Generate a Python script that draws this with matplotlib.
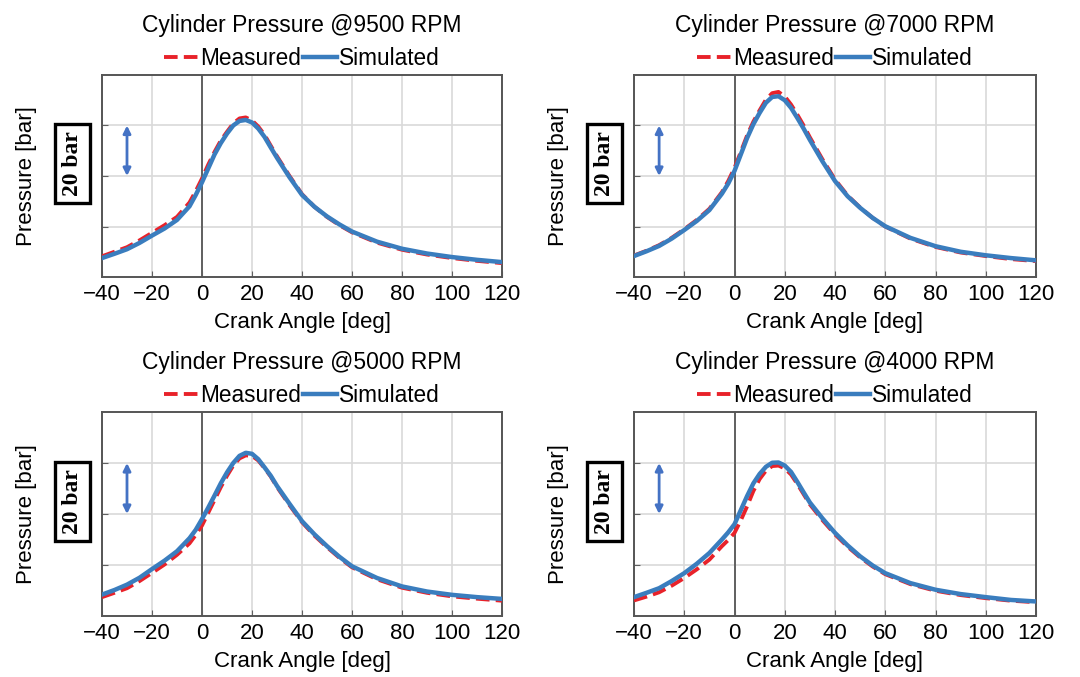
import matplotlib
matplotlib.use("Agg")
import matplotlib.pyplot as plt

plt.rcParams['font.family'] = ['Liberation Sans', 'DejaVu Sans']

angles = [-40, -35, -30, -25, -20, -15, -10, -5, -2.5, 0, 2.5, 5, 7.5, 10, 12.5, 15, 17.5,
          20, 22.5, 25, 27.5, 30, 35, 40, 45, 50, 55, 60, 70, 80, 90, 100, 110, 120]

titles = ["Cylinder Pressure @9500 RPM", "Cylinder Pressure @7000 RPM",
          "Cylinder Pressure @5000 RPM", "Cylinder Pressure @4000 RPM"]

sim_9500 = [7.5, 9.2, 11.0, 13.5, 16.4, 19.2, 22.6, 28.0, 32.5, 37.5, 43, 48.5, 53, 56.8, 60, 61.8, 62.2,
            61.2, 58.8, 55.5, 51.3, 47.2, 39.5, 32.5, 27.8, 24, 20.8, 18, 14, 11.2, 9.3, 7.9, 6.8, 5.9]
meas_9500 = [8.2, 10, 11.8, 14.5, 17.5, 20.5, 23.8, 29.5, 34, 39, 44.5, 49.5, 54, 57.5, 60.8, 62.8, 63.2,
             62, 59.6, 56.3, 52, 47.8, 40, 32.8, 27.8, 23.8, 20.5, 17.7, 13.6, 10.8, 8.9, 7.5, 6.4, 5.5]

sim_7000 = [8.3, 10.2, 12.3, 15.2, 18.6, 22.2, 26.5, 33, 37, 42, 48.5, 55, 60.5, 65, 69, 71.3, 71.6,
            70, 67, 63, 58.8, 54.3, 45.8, 38, 32, 27.4, 23.4, 20.1, 15.5, 12.2, 10, 8.6, 7.5, 6.6]
meas_7000 = [8.5, 10.4, 12.6, 15.5, 18.9, 22.6, 27, 33.6, 38, 43.2, 49.5, 56, 61.5, 66, 70.2, 72.8, 73.3,
             71.5, 68.3, 64.3, 60, 55.3, 46.6, 38.6, 32.3, 27.5, 23.4, 20, 15.2, 11.9, 9.7, 8.3, 7.1, 6.3]

sim_5000 = [8.4, 10.2, 12.3, 15, 18.4, 21.7, 25.4, 30.5, 33.8, 38, 42.5, 47.2, 52, 56.3, 60, 62.8, 64,
            63.6, 61.5, 58.3, 55, 51, 44, 37.2, 32, 27.4, 23.2, 19.5, 14.9, 11.6, 9.6, 8.3, 7.4, 6.7]
meas_5000 = [7.4, 9.1, 10.9, 13.7, 16.9, 20.2, 24, 28.5, 31.8, 35.5, 40.5, 45.5, 50.5, 55, 59, 61.8, 63,
             62.8, 61, 58, 54.7, 50.6, 43.5, 36.8, 31.5, 27, 22.8, 19.1, 14.4, 11.1, 9.1, 7.7, 6.8, 6]

sim_4000 = [7.4, 9.1, 10.9, 13.7, 16.8, 20.5, 24.7, 30, 32.8, 36, 41.5, 47, 52, 55.7, 58.5, 60.1, 60.2,
            59, 56.5, 52.6, 48.5, 44.5, 38.3, 32.6, 27.7, 23.4, 19.8, 16.8, 12.9, 10.3, 8.6, 7.4, 6.3, 5.7]
meas_4000 = [6.1, 7.6, 9.3, 11.9, 14.9, 18.3, 22.1, 27.4, 29.8, 32.6, 37.5, 43, 49, 53.7, 57, 58.8, 59,
             57.9, 55.5, 51.8, 47.8, 43.8, 37.6, 32, 27.2, 23, 19.4, 16.4, 12.5, 9.9, 8.2, 7, 6, 5.4]

measured = [meas_9500, meas_7000, meas_5000, meas_4000]
simulated = [sim_9500, sim_7000, sim_5000, sim_4000]

x_ticks = [-40, -20, 0, 20, 40, 60, 80, 100, 120]
y_grid = [20, 40, 60]

fig = plt.figure(figsize=(10.8, 6.77), dpi=100)
fig.patch.set_facecolor('white')

W = 1080.0
H = 677.0
boxes = [(102, 75, 400, 202), (634, 75, 402, 202), (102, 412, 400, 204), (634, 412, 402, 204)]

red = '#E8222A'
blue = '#3A7DBE'

for i, (px, py, pw, ph) in enumerate(boxes):
    ax = fig.add_axes([px / W, 1 - (py + ph) / H, pw / W, ph / H])
    ax.set_xlim(-40, 120)
    ax.set_ylim(0, 80)
    ax.set_xticks(x_ticks)
    ax.set_yticks(y_grid)
    ax.set_yticklabels([])
    ax.grid(True, color='#D9D9D9', lw=1.2)
    ax.set_axisbelow(True)
    ax.axvline(0, color='#606060', lw=1.4, zorder=1)
    for s in ax.spines.values():
        s.set_color('#555555')
        s.set_linewidth(1.4)
    ax.tick_params(direction='in', length=4, color='#606060', labelsize=16, pad=5)
    ax.plot(angles, measured[i], color=red, lw=2.8, ls=(0, (3.5, 1.6)), label='Measured', zorder=3)
    ax.plot(angles, simulated[i], color=blue, lw=3.2, label='Simulated', zorder=4)
    ax.set_xlabel('Crank Angle [deg]', fontsize=16, labelpad=5)
    ax.set_ylabel('Pressure [bar]', fontsize=16, labelpad=42)
    ax.set_title(titles[i], fontsize=16.5, pad=31)
    ax.legend(loc='lower center', bbox_to_anchor=(0.5, 0.975), ncol=2, frameon=False,
              fontsize=16.3, handlelength=1.5, handletextpad=0.1, columnspacing=0.1,
              borderaxespad=0.05)
    ax.annotate('', xy=(-30, 60), xytext=(-30, 40),
                arrowprops=dict(arrowstyle='<|-|>', color='#4472C4', lw=2.0, mutation_scale=11,
                                shrinkA=0, shrinkB=0))
    ax.text(-0.073, 0.56, '20 bar', transform=ax.transAxes, rotation=90, ha='center', va='center',
            fontsize=17, fontweight='bold', family='Liberation Serif',
            bbox=dict(boxstyle='square,pad=0.3', fc='white', ec='black', lw=2.4))

fig.savefig('out.png', dpi=100, facecolor='white')
